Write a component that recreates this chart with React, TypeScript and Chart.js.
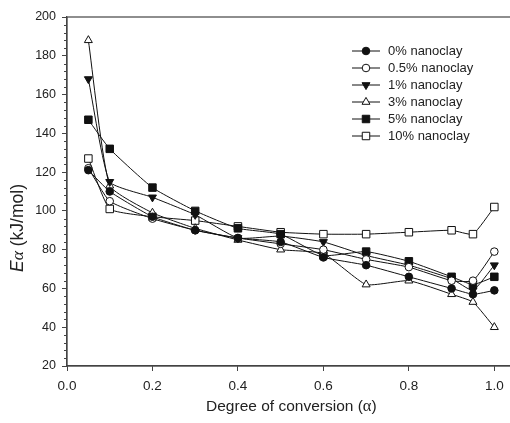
import React, { useEffect, useRef } from "react";
import { Chart, registerables } from "chart.js";

Chart.register(...registerables);

// ---- data ----
const conversion = [0.05, 0.1, 0.2, 0.3, 0.4, 0.5, 0.6, 0.7, 0.8, 0.9, 0.95, 1.0];
const clay0 = [121, 110, 97, 90, 86, 84, 76, 72, 66, 60, 57, 59];
const clay05 = [122, 105, 96, 90, 86, 83, 80, 75, 71, 64, 64, 79];
const clay1 = [168, 115, 107, 98, 86, 87, 84, 77, 72, 65, 59, 72];
const clay3 = [188, 113, 99, 91, 85, 80, 78, 62, 64, 57, 53, 40];
const clay5 = [147, 132, 112, 100, 91, 88, 77, 79, 74, 66, 62, 66];
const clay10 = [127, 101, 97, 95, 92, 89, 88, 88, 89, 90, 88, 102];
const seriesNames = [
  "0% nanoclay",
  "0.5% nanoclay",
  "1% nanoclay",
  "3% nanoclay",
  "5% nanoclay",
  "10% nanoclay",
];
const xTicks = [0, 0.2, 0.4, 0.6, 0.8, 1.0];
const yTicks = [20, 40, 60, 80, 100, 120, 140, 160, 180, 200];
const yMinorStep = 4;

const allSeries = [clay0, clay05, clay1, clay3, clay5, clay10];

type MarkerStyle = { shape: "circle" | "triangle" | "rect"; filled: boolean; r: number; rot: number };
const markers: MarkerStyle[] = [
  { shape: "circle", filled: true, r: 3.8, rot: 0 },
  { shape: "circle", filled: false, r: 3.8, rot: 0 },
  { shape: "triangle", filled: true, r: 4.6, rot: 180 },
  { shape: "triangle", filled: false, r: 4.6, rot: 0 },
  { shape: "rect", filled: true, r: 5.3, rot: 0 },
  { shape: "rect", filled: false, r: 5.3, rot: 0 },
];

const INK = "#111";
const AXIS = "#444";
const SANS = "'Liberation Sans', Arial, sans-serif";
const SERIF = "'Liberation Serif', 'Times New Roman', serif";

function drawMarker(ctx: CanvasRenderingContext2D, m: MarkerStyle, x: number, y: number) {
  ctx.beginPath();
  if (m.shape === "circle") {
    ctx.arc(x, y, m.r, 0, Math.PI * 2);
  } else if (m.shape === "triangle") {
    let a = (m.rot * Math.PI) / 180;
    ctx.moveTo(x + Math.sin(a) * m.r, y - Math.cos(a) * m.r);
    for (let i = 0; i < 2; i++) {
      a += (2 * Math.PI) / 3;
      ctx.lineTo(x + Math.sin(a) * m.r, y - Math.cos(a) * m.r);
    }
    ctx.closePath();
  } else {
    const s = Math.SQRT1_2 * m.r;
    ctx.rect(x - s, y - s, 2 * s, 2 * s);
  }
  ctx.fillStyle = m.filled ? INK : "#fff";
  ctx.fill();
  ctx.lineWidth = 1;
  ctx.strokeStyle = INK;
  ctx.stroke();
}

const decorPlugin = {
  id: "decor",
  afterDraw(chart: any) {
    const ctx: CanvasRenderingContext2D = chart.ctx;
    const { left, top, right, bottom } = chart.chartArea;
    const ys = chart.scales.y;
    ctx.save();
    // frame
    ctx.strokeStyle = AXIS;
    ctx.lineWidth = 1.2;
    ctx.strokeRect(left, top, right - left, bottom - top);
    // minor ticks on y
    ctx.beginPath();
    for (let v = ys.min; v <= ys.max + 1e-9; v += yMinorStep) {
      if (v % 20 === 0) continue;
      const py = Math.round(ys.getPixelForValue(v)) + 0.5;
      ctx.moveTo(left - 3, py);
      ctx.lineTo(left, py);
    }
    ctx.lineWidth = 1;
    ctx.stroke();

    // y title: E α (kJ/mol)
    ctx.fillStyle = "#222";
    ctx.translate(18, 228);
    ctx.rotate(-Math.PI / 2);
    ctx.textBaseline = "middle";
    const parts: [string, string][] = [
      ["E", `italic 17.5px ${SANS}`],
      ["\u03b1", `italic 17.5px ${SERIF}`],
      [" (kJ/mol)", `17.5px ${SANS}`],
    ];
    let total = 0;
    for (const [t, f] of parts) {
      ctx.font = f;
      total += ctx.measureText(t).width;
    }
    let cx = -total / 2;
    ctx.textAlign = "left";
    for (const [t, f] of parts) {
      ctx.font = f;
      ctx.fillText(t, cx, 0);
      cx += ctx.measureText(t).width;
    }
    ctx.setTransform(1, 0, 0, 1, 0, 0);

    // x title
    const xparts: [string, string][] = [
      ["Degree of conversion (", `15.5px ${SANS}`],
      ["\u03b1", `16.5px ${SERIF}`],
      [")", `15.5px ${SANS}`],
    ];
    total = 0;
    for (const [t, f] of xparts) {
      ctx.font = f;
      total += ctx.measureText(t).width;
    }
    cx = (left + right) / 2 - total / 2;
    for (const [t, f] of xparts) {
      ctx.font = f;
      ctx.fillText(t, cx, 407);
      cx += ctx.measureText(t).width;
    }

    // legend
    const lx = 352;
    const ly = 51;
    const gap = 17;
    ctx.font = `13px ${SANS}`;
    ctx.textBaseline = "middle";
    seriesNames.forEach((name, i) => {
      const y = ly + i * gap;
      ctx.beginPath();
      ctx.moveTo(lx, y);
      ctx.lineTo(lx + 28, y);
      ctx.strokeStyle = INK;
      ctx.lineWidth = 1;
      ctx.stroke();
      drawMarker(ctx, markers[i], lx + 14, y);
      ctx.fillStyle = "#222";
      ctx.fillText(name, lx + 36, y);
    });
    ctx.restore();
  },
};

export default function App() {
  const ref = useRef<HTMLCanvasElement | null>(null);
  useEffect(() => {
    if (!ref.current) return;
    const datasets = allSeries.map((s, i) => {
      const m = markers[i];
      return {
        label: seriesNames[i],
        data: conversion.map((x, j) => ({ x, y: s[j] })),
        borderColor: INK,
        borderWidth: 1,
        pointStyle: m.shape,
        pointRotation: m.rot,
        pointRadius: m.r,
        pointBackgroundColor: m.filled ? INK : "#fff",
        pointBorderColor: INK,
        pointBorderWidth: 1,
        tension: 0.15,
        fill: false,
      };
    });
    const chart = new Chart(ref.current, {
      type: "line",
      data: { datasets },
      plugins: [decorPlugin],
      options: {
        responsive: false,
        animation: false,
        devicePixelRatio: 1,
        layout: { padding: { left: 0, top: 17, right: 0, bottom: 0 } },
        plugins: { legend: { display: false }, tooltip: { enabled: false } },
        scales: {
          x: {
            type: "linear",
            min: 0,
            max: 1.05,
            afterFit: (s: any) => {
              s.height = 57;
            },
            afterBuildTicks: (s: any) => {
              s.ticks = xTicks.map((v) => ({ value: v }));
            },
            ticks: {
              callback: (v: any) => Number(v).toFixed(1),
              font: { family: SANS, size: 13.5 },
              color: "#222",
              padding: 7,
              maxRotation: 0,
            },
            grid: { drawOnChartArea: false, drawTicks: true, tickLength: 5, color: AXIS, tickColor: AXIS },
            border: { display: true, color: AXIS, width: 1.2 },
          },
          y: {
            type: "linear",
            min: 20,
            max: 200,
            afterFit: (s: any) => {
              s.width = 67;
            },
            afterBuildTicks: (s: any) => {
              s.ticks = yTicks.map((v) => ({ value: v }));
            },
            ticks: {
              font: { family: SANS, size: 12.5 },
              color: "#222",
              padding: 6,
            },
            grid: { drawOnChartArea: false, drawTicks: true, tickLength: 5, color: AXIS, tickColor: AXIS },
            border: { display: true, color: AXIS, width: 1.2 },
          },
        },
      },
    } as any);
    return () => chart.destroy();
  }, []);
  return (
    <div style={{ position: "fixed", left: 0, top: 0, width: 510, height: 423, overflow: "hidden", background: "#fff" }}>
      <canvas ref={ref} width={522} height={423} style={{ display: "block" }} />
    </div>
  );
}
